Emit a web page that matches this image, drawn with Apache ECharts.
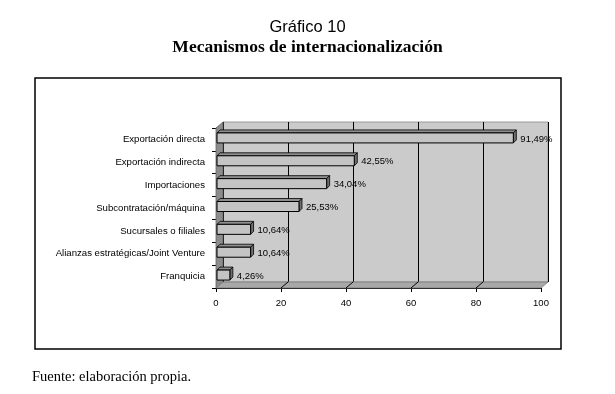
<!DOCTYPE html>
<html>
<head>
<meta charset="utf-8">
<script src="https://cdn.jsdelivr.net/npm/echarts@6/dist/echarts.min.js"></script>
<style>
  html, body { margin: 0; padding: 0; background: #fff; }
  #chart { width: 615px; height: 394px; }
</style>
</head>
<body>
<div id="chart"></div>
<script>
// datos del grafico
var categorias = [
  'Exportación directa',
  'Exportación indirecta',
  'Importaciones',
  'Subcontratación/máquina',
  'Sucursales o filiales',
  'Alianzas estratégicas/Joint Venture',
  'Franquicia'
];
var porcentajes = [91.49, 42.55, 34.04, 25.53, 10.64, 10.64, 4.26];
var ticksX = [0, 20, 40, 60, 80, 100];

var myChart = echarts.init(document.getElementById('chart'));

// profundidad del efecto 3D
var DX = 7, DY = -6;
var font = '"Liberation Sans", Arial, sans-serif';
var serif = '"Liberation Serif", "Times New Roman", serif';

function fmt(v) {
  return v.toFixed(2).replace('.', ',') + '%';
}

var option = {
  animation: false,
  backgroundColor: '#fff',
  title: [{
    text: 'Gráfico 10',
    left: 'center', top: 14,
    textStyle: { fontFamily: font, fontSize: 16.5, fontWeight: 'normal', color: '#000' }
  }, {
    text: 'Mecanismos de internacionalización',
    left: 'center', top: 33,
    textStyle: { fontFamily: serif, fontSize: 17.5, fontWeight: 'bold', color: '#000' }
  }, {
    text: 'Fuente: elaboración propia.',
    left: 27, top: 365,
    textStyle: { fontFamily: serif, fontSize: 14.5, fontWeight: 'normal', color: '#000' }
  }],
  grid: [
    // pared del fondo
    { left: 216 + DX, top: 128 + DY, width: 325, height: 160, show: true,
      backgroundColor: '#cbcbcb', borderColor: '#9a9a9a', borderWidth: 1 },
    // plano frontal (ejes)
    { left: 216, top: 128, width: 325, height: 160 }
  ],
  xAxis: [{
    gridIndex: 0, type: 'value', min: 0, max: 100, interval: 20,
    axisLine: { show: false }, axisTick: { show: false }, axisLabel: { show: false },
    splitLine: { show: true, lineStyle: { color: '#000', width: 1 } }
  }, {
    gridIndex: 1, type: 'value', min: 0, max: 100, interval: 20,
    axisLine: { show: true, lineStyle: { color: '#000', width: 1 } },
    axisTick: { show: true, length: 4, lineStyle: { color: '#000' } },
    axisLabel: { margin: 10, fontFamily: font, fontSize: 9.5, color: '#000',
      formatter: function (v) { return ticksX.indexOf(v) >= 0 ? String(v) : ''; } },
    splitLine: { show: false }
  }],
  yAxis: [{
    gridIndex: 0, type: 'category', data: categorias, inverse: true, show: false
  }, {
    gridIndex: 1, type: 'category', data: categorias, inverse: true,
    axisLine: { show: true, lineStyle: { color: '#000', width: 1 } },
    axisTick: { show: true, length: 4, inside: false, lineStyle: { color: '#000' } },
    axisLabel: { margin: 11, fontFamily: font, fontSize: 9.6, color: '#000' },
    splitLine: { show: false }
  }],
  series: [{
    type: 'custom',
    xAxisIndex: 1, yAxisIndex: 1,
    z: 10,
    data: porcentajes.map(function (v, i) { return [v, i]; }),
    renderItem: function (params, api) {
      var v = api.value(0);
      var p0 = api.coord([0, api.value(1)]);
      var p1 = api.coord([v, api.value(1)]);
      var x0 = p0[0] + 1, x1 = p1[0];
      var top = p0[1] - 6.5, h = 10, d = 3;
      return {
        type: 'group',
        children: [{
          type: 'polygon',
          shape: { points: [[x0, top], [x0 + d, top - d], [x1 + d, top - d], [x1, top]] },
          style: { fill: '#8e8e8e', stroke: '#000', lineWidth: 0.8 }
        }, {
          type: 'polygon',
          shape: { points: [[x1, top], [x1 + d, top - d], [x1 + d, top - d + h], [x1, top + h]] },
          style: { fill: '#6f6f6f', stroke: '#000', lineWidth: 0.8 }
        }, {
          type: 'rect',
          shape: { x: x0, y: top, width: x1 - x0, height: h },
          style: { fill: '#c4c4c4', stroke: '#000', lineWidth: 1 }
        }, {
          type: 'text',
          style: {
            x: x1 + d + 4, y: top + h / 2 + 1,
            text: fmt(v),
            fill: '#000', font: '9.5px ' + font,
            verticalAlign: 'middle', align: 'left'
          }
        }]
      };
    }
  }]
};

myChart.setOption(option);

// paredes laterales e inferior del efecto 3D
var xs = ticksX.map(function (t) { return myChart.convertToPixel({ xAxisIndex: 1 }, t); });
var left = xs[0], right = xs[xs.length - 1];
var bottom = 288, topY = 128;
var graphics = [{
  type: 'polygon', z: 1,
  shape: { points: [[left, topY], [left + DX, topY + DY], [left + DX, bottom + DY], [left, bottom]] },
  style: { fill: '#8c8c8c', stroke: '#666', lineWidth: 0.8 }
}, {
  type: 'polygon', z: 1,
  shape: { points: [[left, bottom], [right, bottom], [right + DX, bottom + DY], [left + DX, bottom + DY]] },
  style: { fill: '#a8a8a8', stroke: '#777', lineWidth: 0.8 }
}];
xs.forEach(function (x, i) {
  if (i > 0 && i < xs.length - 1) {
    graphics.push({
      type: 'line', z: 2,
      shape: { x1: x, y1: bottom, x2: x + DX, y2: bottom + DY },
      style: { stroke: '#000', lineWidth: 1 }
    });
  }
});
// marco exterior
graphics.push({
  type: 'rect', z: 0,
  shape: { x: 35, y: 78, width: 526, height: 271 },
  style: { fill: 'none', stroke: '#000', lineWidth: 1.5 }
});
myChart.setOption({ graphic: graphics });
</script>
</body>
</html>
